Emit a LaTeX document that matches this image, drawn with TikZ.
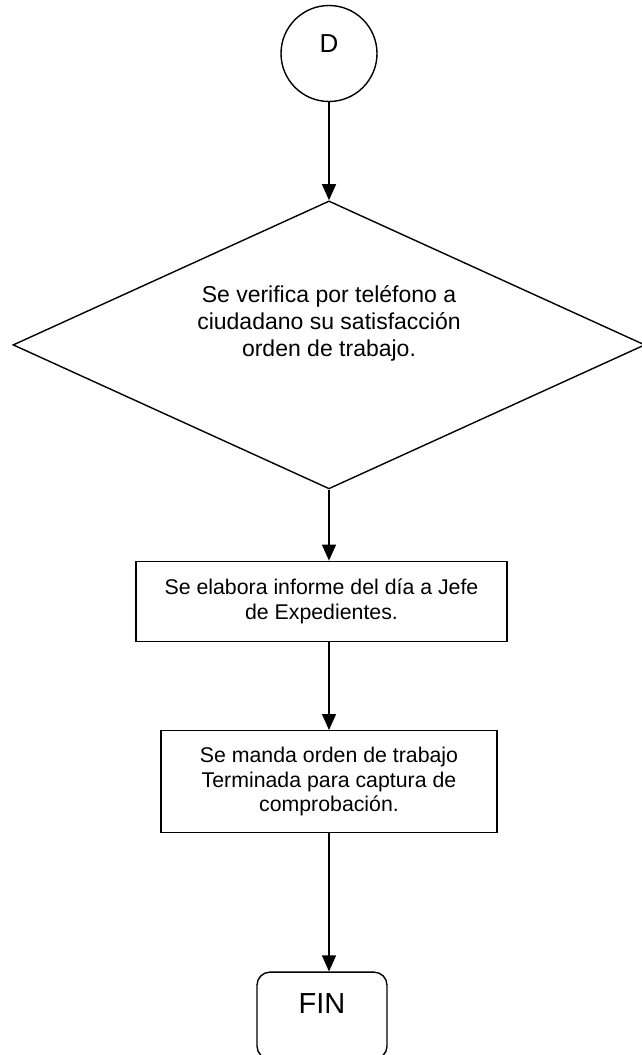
\documentclass[tikz,border=0pt]{standalone}
\usepackage{fontspec}
\setmainfont{Liberation Sans}
\usetikzlibrary{positioning,shapes.geometric,arrows.meta}

\begin{document}
\begin{tikzpicture}[
    x=1pt, y=-1pt,
    line width=1.4pt,
    inner sep=0pt,
    conector/.style={circle, draw, minimum size=96pt, font=\fontsize{26}{30}\selectfont, text height=19pt, text depth=21pt},
    decision/.style={diamond, draw, aspect=2.2, minimum width=632pt, minimum height=288pt, align=center, font=\fontsize{23}{27}\selectfont, text height=71pt, text depth=48pt},
    box/.style={rectangle, draw, align=center, font=\fontsize{21.3}{24.5}\selectfont},
    term/.style={rectangle, draw, rounded corners=13pt, minimum width=130pt, minimum height=87pt, font=\fontsize{29}{33}\selectfont, text height=21pt, text depth=25pt},
    flow/.style={-{Triangle[length=16pt,width=14pt]}}
]
\useasboundingbox (0,0) rectangle (641,1055);

% Nodes
\node[conector] (conD) at (329,53.5) {D};
\node[decision, below=98pt of conD] (verifica) {Se verifica por teléfono a\\ciudadano su satisfacción\\orden de trabajo.};
\node[box, minimum width=371pt, minimum height=80pt, below=71pt of verifica, xshift=-7.5pt] (informe) {Se elabora informe del día a Jefe\\de Expedientes.};
\node[box, minimum width=336pt, minimum height=102pt, below=88pt of informe, xshift=7.5pt] (manda) {Se manda orden de trabajo\\Terminada para captura de\\comprobación.};
\node[term, below=138pt of manda, xshift=-7pt] (fin) {FIN};

% Connectors
\draw[flow] (conD) -- (verifica);
\draw[flow] (verifica.south) -- (verifica.south |- informe.north);
\draw[flow] (manda.north |- informe.south) -- (manda);
\draw[flow] (manda.south) -- (manda.south |- fin.north);

\end{tikzpicture}
\end{document}
